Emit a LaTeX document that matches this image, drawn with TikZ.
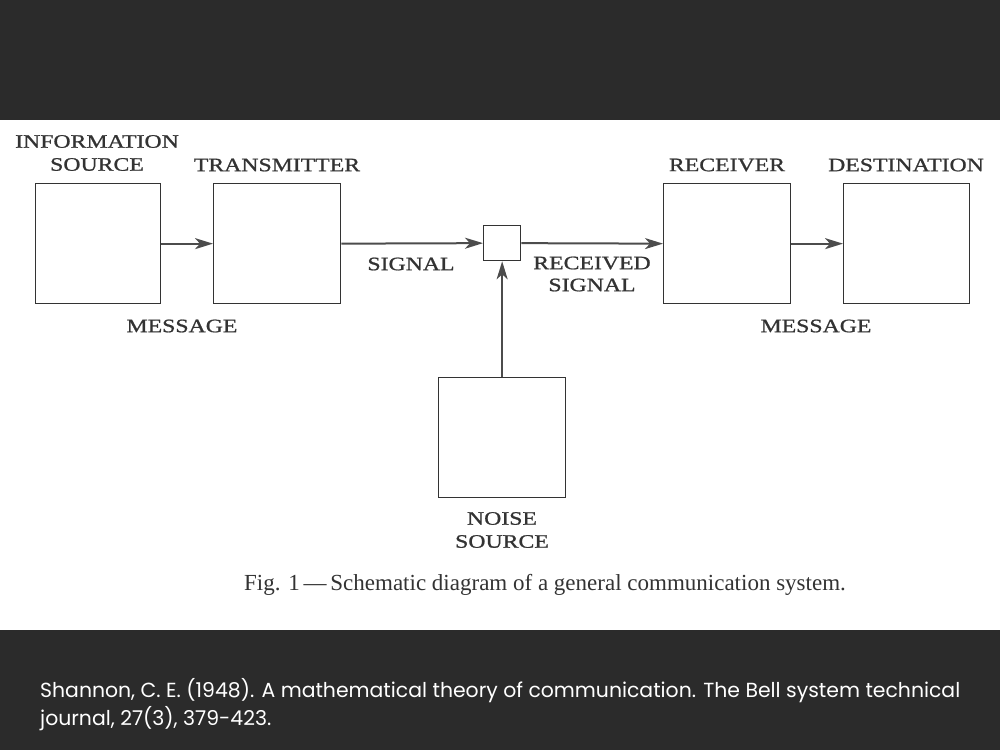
\documentclass[tikz,border=0pt]{standalone}
\usepackage{fontspec}
\setmainfont{Liberation Serif}
\newfontfamily\capfont{Poppins}
\newfontfamily\labfont{Liberation Serif}[FakeStretch=1.25,FakeBold=1]
\usetikzlibrary{arrows.meta}
\begin{document}
\begin{tikzpicture}[x=1pt,y=-1pt,
  box/.style={draw=black!80,line width=1.3pt,inner sep=0pt,anchor=north west},
  lab/.style={font=\labfont\fontsize{19}{22}\selectfont,text=black!80,align=center,inner sep=0pt},
  con/.style={draw=black!70,line width=2pt,-{Stealth[length=18pt,width=11pt,inset=5pt]}}]
\useasboundingbox (0,0) rectangle (1000,750);
\fill[black!83] (0,0) rectangle (1000,750);
\fill[white] (0,120) rectangle (1000,630);
\node[box,minimum width=125pt,minimum height=120pt] (is) at (35,183) {};
\node[box,minimum width=127pt,minimum height=120pt] (tr) at (213,183) {};
\node[box,minimum width=37pt,minimum height=35pt] (sm) at (483,225) {};
\node[box,minimum width=127pt,minimum height=120pt] (rc) at (663,183) {};
\node[box,minimum width=126pt,minimum height=120pt] (de) at (843,183) {};
\node[box,minimum width=127pt,minimum height=120pt] (ns) at (438,377) {};
\draw[con] (is.east) -- (tr.west);
\draw[con] (tr.east) -- (sm.west);
\draw[con] (sm.east) -- (rc.west);
\draw[con] (rc.east) -- (de.west);
\draw[con] (ns.north -| sm.south) -- (sm.south);
\node[lab] (l1) at (97,153) {INFORMATION\\[1pt]SOURCE};
\node[lab] (l2) at (277,165) {TRANSMITTER};
\node[lab] (l3) at (727,165) {RECEIVER};
\node[lab] (l4) at (906,165) {DESTINATION};
\node[lab] (l5) at (182,326) {MESSAGE};
\node[lab] (l6) at (816,326) {MESSAGE};
\node[lab] (l7) at (411,264) {SIGNAL};
\node[lab] (l8) at (592,274) {RECEIVED\\[0pt]SIGNAL};
\node[lab] (l9) at (502,530) {NOISE\\[1pt]SOURCE};
\node[font=\fontsize{23}{26}\selectfont,text=black!80,inner sep=0pt] (cap) at (545,585) {Fig. 1\,---\,Schematic diagram of a general communication system.};
\node[font=\capfont\fontsize{20.4}{28}\selectfont,text=white,align=left,anchor=north west,inner sep=0pt] (ref) at (40,678) {Shannon, C. E. (1948). A mathematical theory of communication. The Bell system technical\\journal, 27(3), 379-423.};
\end{tikzpicture}
\end{document}
